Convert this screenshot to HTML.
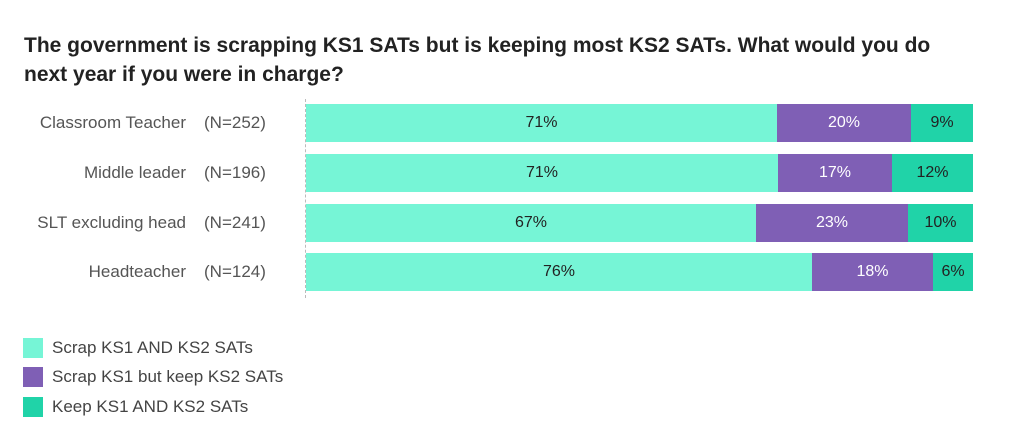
<!DOCTYPE html>
<html><head><style>
body{margin:0;width:1024px;height:439px;background:#fff;font-family:"Liberation Sans",sans-serif;position:relative;overflow:hidden}
.t{position:absolute;left:24px;top:31px;font-size:21px;font-weight:bold;color:#222;line-height:29px;width:990px;white-space:nowrap}
.lab{position:absolute;font-size:17px;color:#555;white-space:nowrap}
.r{text-align:right;width:186px;left:0}
.n{left:204px}
.s{position:absolute;height:38px;font-size:16px;display:flex;align-items:center;justify-content:center}
.a{background:#76f5d6;color:#222}.b{background:#7f5fb5;color:#fff}.c{background:#20d3a8;color:#222}
.ax{position:absolute;left:305px;top:99px;height:199px;border-left:1px dashed #bbb}
.lg{position:absolute;left:23px;width:20px;height:20px}
.lt{position:absolute;left:52px;font-size:17px;color:#444}
</style></head><body>
<div class="t">The government is scrapping KS1 SATs but is keeping most KS2 SATs. What would you do<br>next year if you were in charge?</div>
<div class="ax"></div>

<div class="lab r" style="top:113px">Classroom Teacher</div><div class="lab n" style="top:113px">(N=252)</div>
<div class="lab r" style="top:163px">Middle leader</div><div class="lab n" style="top:163px">(N=196)</div>
<div class="lab r" style="top:213px">SLT excluding head</div><div class="lab n" style="top:213px">(N=241)</div>
<div class="lab r" style="top:262px">Headteacher</div><div class="lab n" style="top:262px">(N=124)</div>

<div class="s a" style="left:306px;width:471px;top:104px">71%</div>
<div class="s b" style="left:777px;width:134px;top:104px">20%</div>
<div class="s c" style="left:911px;width:62px;top:104px">9%</div>

<div class="s a" style="left:306px;width:472px;top:154px">71%</div>
<div class="s b" style="left:778px;width:114px;top:154px">17%</div>
<div class="s c" style="left:892px;width:81px;top:154px">12%</div>

<div class="s a" style="left:306px;width:450px;top:204px">67%</div>
<div class="s b" style="left:756px;width:152px;top:204px">23%</div>
<div class="s c" style="left:908px;width:65px;top:204px">10%</div>

<div class="s a" style="left:306px;width:506px;top:253px">76%</div>
<div class="s b" style="left:812px;width:121px;top:253px">18%</div>
<div class="s c" style="left:933px;width:40px;top:253px">6%</div>

<div class="lg a" style="top:338px"></div><div class="lt" style="top:338px">Scrap KS1 AND KS2 SATs</div>
<div class="lg b" style="top:367px"></div><div class="lt" style="top:367px">Scrap KS1 but keep KS2 SATs</div>
<div class="lg c" style="top:397px"></div><div class="lt" style="top:397px">Keep KS1 AND KS2 SATs</div>
</body></html>
